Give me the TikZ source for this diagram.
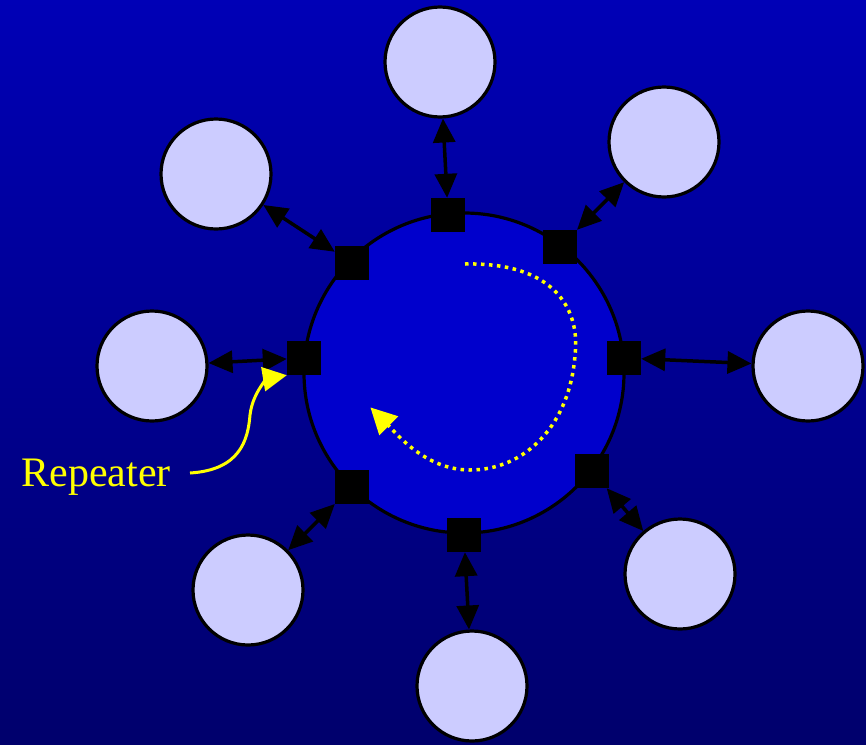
\documentclass[tikz,border=0pt]{standalone}
\usepackage{fontspec}
\setmainfont{Liberation Serif}
\usetikzlibrary{arrows.meta}
\definecolor{bgtop}{RGB}{0,0,182}
\definecolor{bgbot}{RGB}{0,0,108}
\definecolor{ringblue}{RGB}{0,0,204}
\definecolor{station}{RGB}{204,204,255}
\definecolor{yel}{RGB}{255,255,0}
\tikzset{
  station/.style={circle, draw=black, line width=3.2pt, fill=station, minimum size=110pt, inner sep=0pt},
  repeater/.style={rectangle, fill=black, minimum size=34pt, inner sep=0pt},
  link/.style={line width=3.5pt, black, {Triangle[length=24pt,width=22pt]}-{Triangle[length=24pt,width=22pt]}},
  flow/.style={yel, line width=3.5pt, dash pattern=on 3.5pt off 4.5pt, -{Triangle[length=26pt,width=26pt,sep=2pt]}},
  callout/.style={yel, line width=3pt, -{Triangle[length=24pt,width=24pt]}}
}
\begin{document}
\begin{tikzpicture}[x=1pt,y=-1pt]
\useasboundingbox (0,0) rectangle (866,744);
\shade[top color=bgtop, bottom color=bgbot] (0,0) rectangle (866,744);
% ring
\node[circle, draw=black, line width=3.2pt, fill=ringblue, minimum size=320pt, inner sep=0pt] (ring) at (464,373) {};
% stations
\node[station] (s1) at (440,62) {};
\node[station] (s2) at (664,142) {};
\node[station] (s3) at (216,174) {};
\node[station] (s4) at (152,366) {};
\node[station] (s5) at (808,366) {};
\node[station] (s6) at (248,590) {};
\node[station] (s7) at (472,686) {};
\node[station] (s8) at (680,574) {};
% repeaters
\node[repeater] (r1) at (448,215) {};
\node[repeater] (r2) at (560,247) {};
\node[repeater] (r3) at (352,263) {};
\node[repeater] (r4) at (304,358) {};
\node[repeater] (r5) at (624,358) {};
\node[repeater] (r6) at (352,487) {};
\node[repeater] (r7) at (464,535) {};
\node[repeater] (r8) at (592,471) {};
% links
\draw[link] (r1) -- (s1);
\draw[link] (r2) -- (s2);
\draw[link] (r3) -- (s3);
\draw[link] (r4) -- (s4);
\draw[link] (r5) -- (s5);
\draw[link] (r6) -- (s6);
\draw[link] (r7) -- (s7);
\draw[link] (r8) -- (s8);
% token flow
\coordinate (f0) at (465,264);
\coordinate (f1) at (575,355);
\coordinate (f2) at (470,470);
\coordinate (f3) at (369,406);
\draw[flow] (f0) .. controls (560,262) and (580,315) .. (f1)
  .. controls (570,425) and (525,470) .. (f2)
  .. controls (425,470) and (395,432) .. (f3);
% label
\node[text=yel, font=\fontsize{42}{46}\selectfont, anchor=east, inner sep=0pt] (lab) at (171,477) {Repeater};
\coordinate (c0) at (190,473);
\draw[callout] (c0) .. controls (240,470) and (248,440) .. (250,415)
  .. controls (253,390) and (270,378) .. (r4.south west);
\end{tikzpicture}
\end{document}
